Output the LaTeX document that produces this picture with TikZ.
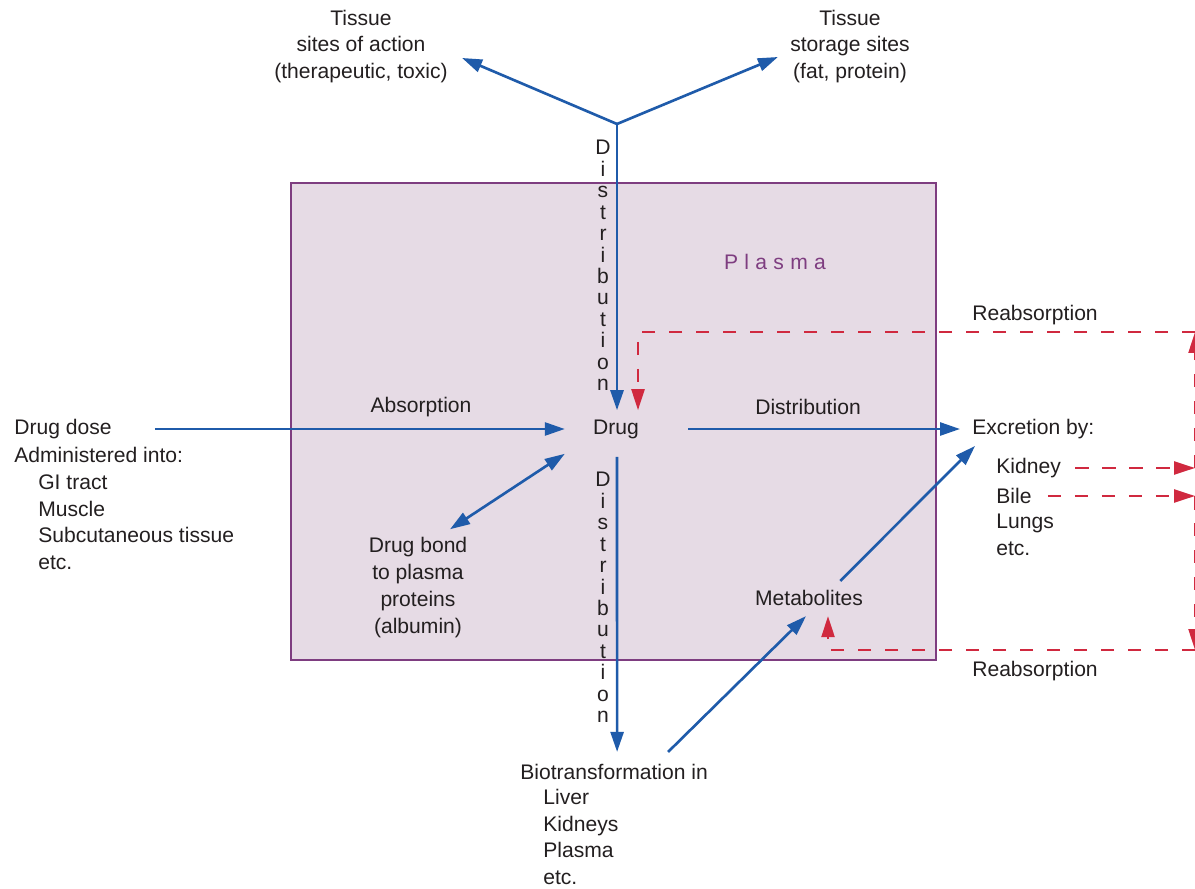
\documentclass[tikz,border=0pt]{standalone}
\usepackage{fontspec}
\setmainfont{Liberation Sans}
\usetikzlibrary{arrows.meta,positioning}
\definecolor{flowblue}{HTML}{1F5BAA}
\definecolor{reabred}{HTML}{D0293F}
\definecolor{plasmafill}{HTML}{E6DBE5}
\definecolor{plasmaline}{HTML}{7E3D80}
\definecolor{inkgray}{HTML}{231F20}
\tikzset{
	lbl/.style={inner sep=0pt, font=\fontsize{12}{15.2}\selectfont, text=inkgray},
	vword/.style={inner sep=0pt, align=center, font=\fontsize{12}{12.2}\selectfont, text=inkgray},
	plasmabox/.style={draw=plasmaline, fill=plasmafill, line width=1.1pt},
	bluearr/.style={-{Triangle[length=0.4cm,width=0.26cm]}, line width=1.5pt, flowblue},
	bluedbl/.style={{Triangle[length=0.4cm,width=0.26cm]}-{Triangle[length=0.4cm,width=0.26cm]}, line width=1.5pt, flowblue},
	redarr/.style={-{Triangle[length=0.42cm,width=0.26cm]}, line width=1.3pt, reabred, dash pattern=on 0.27cm off 0.27cm}
}
\begin{document}
\begin{tikzpicture}[x=0.02cm, y=-0.02cm]
	\useasboundingbox (0,0) rectangle (1195,888);
	\draw[plasmabox] (291,183) rectangle (936,660);
	\node[lbl, text=plasmaline] (plasma) at (775,262) {P\hspace{3.6pt}l\hspace{3.6pt}a\hspace{3.6pt}s\hspace{3.6pt}m\hspace{3.6pt}a};
	\node[lbl] (drug) at (616,429) {Drug};
	\node[lbl, anchor=west] (dose) at (14,429) {Drug dose};
	\node[lbl, anchor=west, align=left] (route) at (14,508.5) {Administered into:\\\hspace*{0.48cm}GI tract\\\hspace*{0.48cm}Muscle\\\hspace*{0.48cm}Subcutaneous tissue\\\hspace*{0.48cm}etc.};
	\node[lbl, align=center] (act) at (361,46.5) {Tissue\\sites of action\\(therapeutic, toxic)};
	\node[lbl, align=center] (store) at (850,46.5) {Tissue\\storage sites\\(fat, protein)};
	\node[lbl, align=center] (bond) at (418,587.5) {Drug bond\\to plasma\\proteins\\(albumin)};
	\node[lbl] (metab) at (809,598) {Metabolites};
	\node[lbl, anchor=west] (excr) at (972,429) {Excretion by:};
	\node[lbl, anchor=west] (kidney) at (996,468) {Kidney};
	\node[lbl, anchor=west] (bile) at (996,496) {Bile};
	\node[lbl, anchor=west, align=left] (lungs) at (996,534.5) {Lungs\\etc.};
	\node[lbl, anchor=west] (bio) at (520,772) {Biotransformation in};
	\node[lbl, anchor=west, align=left] (organs) at (543,837) {Liver\\Kidneys\\Plasma\\etc.};
	\node[lbl] (absl) at (421,407) {Absorption};
	\node[lbl] (distl) at (808,407) {Distribution};
	\node[lbl] (reabtop) at (1035,315) {Reabsorption};
	\node[lbl] (reabbot) at (1035,671) {Reabsorption};
	\node[vword] (distup) at (603,265.5) {D\\i\\s\\t\\r\\i\\b\\u\\t\\i\\o\\n};
	\node[vword] (distdn) at (603,597.5) {D\\i\\s\\t\\r\\i\\b\\u\\t\\i\\o\\n};
	\coordinate (fork) at (617,124);
	\coordinate (rtop) at (1195,332);
	\coordinate (rkid) at (1195,468);
	\coordinate (rbile) at (1195,496);
	\coordinate (rbot) at (1195,650);
	\draw[bluearr] (fork) -- ([shift={(14,11.5)}]act.east);
	\draw[bluearr] (fork) -- ([shift={(-12,10.5)}]store.west);
	\draw[bluearr] (fork) -- ([shift={(1,-9)}]drug.north);
	\draw[bluearr] ([xshift=0.86cm]dose.east) -- ([xshift=-0.56cm]drug.west);
	\draw[bluearr] ([xshift=0.98cm]drug.east) -- ([xshift=-0.24cm]excr.west);
	\draw[bluearr] ([shift={(1,18)}]drug.south) -- ([shift={(3,-12)}]bio.north);
	\draw[bluedbl] ([shift={(-28,15)}]drug.south west) -- ([shift={(32,-8)}]bond.north);
	\draw[bluearr] ([shift={(54,-12)}]bio.north) -- ([shift={(-3,10)}]metab.south);
	\draw[bluearr] ([shift={(-23,-9)}]metab.north east) -- ([shift={(3,17)}]excr.west);
	\draw[redarr] ([xshift=0.28cm]kidney.east) -- (rkid);
	\draw[redarr] (rkid) -- (rtop);
	\draw[redarr] (rtop) -| ([shift={(22,-9)}]drug.north);
	\draw[redarr] ([xshift=0.32cm]bile.east) -- (rbile);
	\draw[redarr] (rbile) -- (rbot);
	\draw[redarr] (rbot) -| ([shift={(19,10)}]metab.south);
\end{tikzpicture}
\end{document}
